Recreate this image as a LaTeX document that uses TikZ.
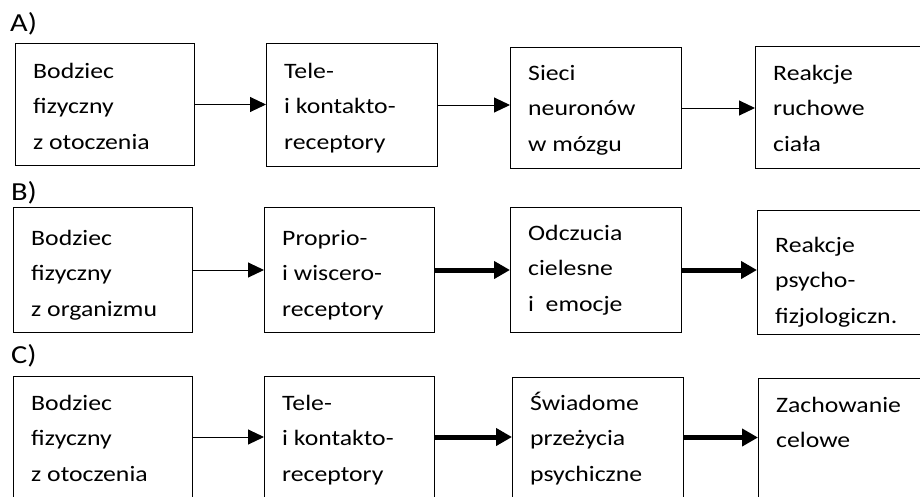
\documentclass[tikz,border=0pt]{standalone}
\usepackage{fontspec}
\setmainfont[FakeStretch=1.17]{Carlito}
\usetikzlibrary{arrows.meta}
\begin{document}
\begin{tikzpicture}[x=1pt,y=-1pt,
  box/.style={draw, line width=1pt, anchor=north west, inner sep=0pt},
  txt/.style={anchor=base west, inner sep=0pt, align=left,
    font={\fontsize{22}{35.5}\selectfont}},
  lbl/.style={anchor=base west, inner sep=0pt, font={\fontsize{26}{30}\selectfont}},
  thinarr/.style={line width=1pt, -{Triangle[length=16pt,width=15pt]}},
  thickarr/.style={line width=5pt, -{Triangle[length=16pt,width=17pt]}}]
\useasboundingbox (0,0) rectangle (920,496);
\fill[white] (0,0) rectangle (920,496);
\clip (0,0) rectangle (920,496);
% labels
\node[lbl] (la) at (10,31) {A)};
\node[lbl] (lb) at (11,200) {B)};
\node[lbl] (lc) at (11,363) {C)};
% row A
\node[box, minimum width=179pt, minimum height=122pt] (a1) at (15,43) {};
\node[box, minimum width=171pt, minimum height=123pt] (a2) at (266,43) {};
\node[box, minimum width=171pt, minimum height=121pt] (a3) at (510,47) {};
\node[box, minimum width=180pt, minimum height=122pt] (a4) at (755,46) {};
\node[txt, xshift=18pt, yshift=-106pt] (a1t) at (a1.north west) {Bodziec\\fizyczny\\z otoczenia};
\node[txt, xshift=18pt, yshift=-106pt] (a2t) at (a2.north west) {Tele-\\i kontakto-\\receptory};
\node[txt, xshift=18pt, yshift=-104pt] (a3t) at (a3.north west) {Sieci\\neuronów\\w mózgu};
\node[txt, xshift=18pt, yshift=-105pt] (a4t) at (a4.north west) {Reakcje\\ruchowe\\ciała};
\draw[thinarr] (a1.east) -- (a1.east -| a2.west);
\draw[thinarr] (a2.east) -- (a2.east -| a3.west);
\draw[thinarr] (a3.east) -- (a3.east -| a4.west);
% row B
\node[box, minimum width=179pt, minimum height=125pt] (b1) at (13,207) {};
\node[box, minimum width=170pt, minimum height=125pt] (b2) at (264,207) {};
\node[box, minimum width=171pt, minimum height=125pt] (b3) at (510,207) {};
\node[box, minimum width=178pt, minimum height=124pt] (b4) at (757,210) {};
\node[txt, xshift=18pt, yshift=-109pt] (b1t) at (b1.north west) {Bodziec\\fizyczny\\z organizmu};
\node[txt, xshift=18pt, yshift=-109pt] (b2t) at (b2.north west) {Proprio-\\i wiscero-\\receptory};
\node[txt, xshift=18pt, yshift=-104pt] (b3t) at (b3.north west) {Odczucia\\cielesne\\i\ \ emocje};
\node[txt, xshift=18pt, yshift=-113pt] (b4t) at (b4.north west) {Reakcje\\psycho-\\fizjologiczn.};
\draw[thinarr] (b1.east) -- (b1.east -| b2.west);
\draw[thickarr] (b2.east) -- (b2.east -| b3.west);
\draw[thickarr] (b3.east) -- (b3.east -| b4.west);
% row C
\node[box, minimum width=179pt, minimum height=121pt] (c1) at (13,376) {};
\node[box, minimum width=170pt, minimum height=121pt] (c2) at (264,376) {};
\node[box, minimum width=171pt, minimum height=120pt] (c3) at (512,377) {};
\node[box, minimum width=177pt, minimum height=119pt] (c4) at (758,378) {};
\node[txt, xshift=18pt, yshift=-105pt] (c1t) at (c1.north west) {Bodziec\\fizyczny\\z otoczenia};
\node[txt, xshift=18pt, yshift=-105pt] (c2t) at (c2.north west) {Tele-\\i kontakto-\\receptory};
\node[txt, xshift=18pt, yshift=-104pt] (c3t) at (c3.north west) {Świadome\\przeżycia\\psychiczne};
\node[txt, xshift=18pt, yshift=-69.5pt] (c4t) at (c4.north west) {Zachowanie\\celowe};
\draw[thinarr] (c1.east) -- (c1.east -| c2.west);
\draw[thickarr] (c2.east) -- (c2.east -| c3.west);
\draw[thickarr] (c3.east) -- (c3.east -| c4.west);
\end{tikzpicture}
\end{document}
